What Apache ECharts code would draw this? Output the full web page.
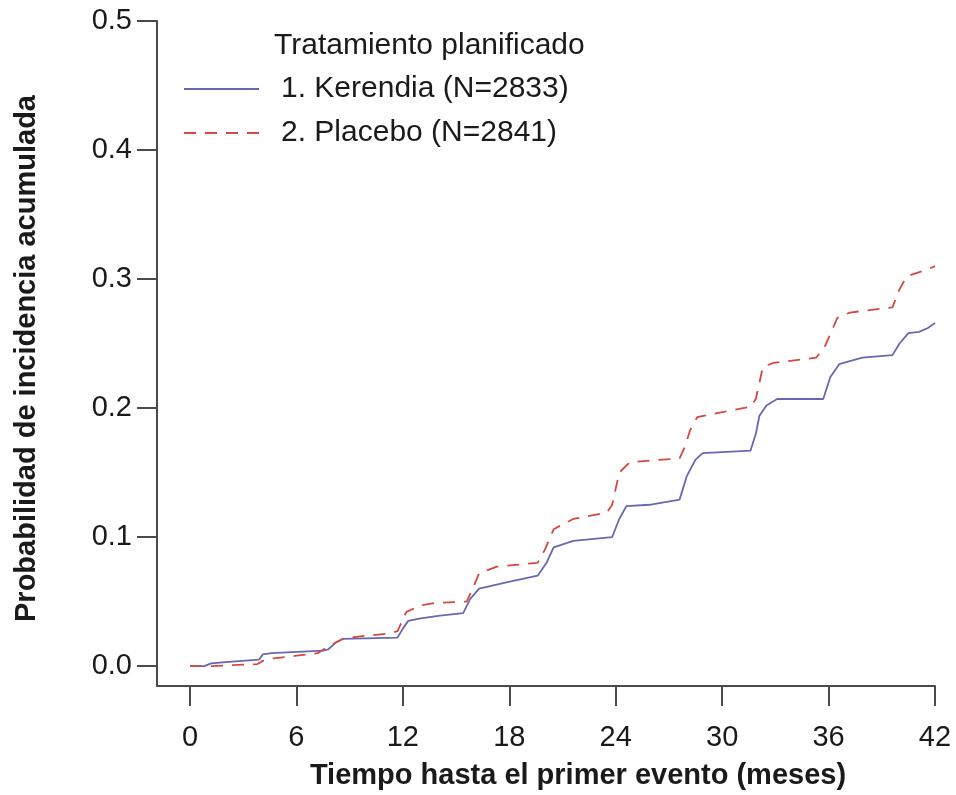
<!DOCTYPE html>
<html>
<head>
<meta charset="utf-8">
<script src="https://cdn.jsdelivr.net/npm/echarts@6/dist/echarts.min.js"></script>
<style>
html,body{margin:0;padding:0;background:#fff;}
#chart{width:956px;height:795px;}
</style>
</head>
<body>
<div id="chart"></div>
<script>
// ---- data ----
var xTicks = [0, 6, 12, 18, 24, 30, 36, 42];
var yTicks = [0, 0.1, 0.2, 0.3, 0.4, 0.5];

var kerendiaName = '1. Kerendia (N=2833)';
var kerendiaMonths = [0, 0.8, 1.2, 2.0, 3.9, 4.1, 4.6, 7.5, 7.8, 8.2, 8.6, 11.7, 12.0, 12.3, 13.0, 14.1, 15.4, 15.8, 16.3, 17.9, 19.6, 20.1, 20.5, 21.6, 23.8, 24.2, 24.6, 25.9, 27.6, 28.0, 28.5, 28.9, 31.6, 31.9, 32.1, 32.5, 33.1, 35.7, 36.1, 36.6, 37.9, 39.6, 40.0, 40.5, 41.1, 41.6, 42.0];
var kerendiaProb   = [0, 0.000, 0.002, 0.003, 0.005, 0.009, 0.010, 0.012, 0.013, 0.018, 0.021, 0.022, 0.029, 0.035, 0.037, 0.039, 0.041, 0.052, 0.060, 0.065, 0.070, 0.080, 0.092, 0.097, 0.100, 0.114, 0.124, 0.125, 0.129, 0.147, 0.160, 0.165, 0.167, 0.180, 0.194, 0.202, 0.207, 0.207, 0.224, 0.234, 0.239, 0.241, 0.250, 0.258, 0.259, 0.262, 0.266];

var placeboName = '2. Placebo (N=2841)';
var placeboMonths = [0, 1.2, 3.8, 4.1, 4.7, 6.0, 7.2, 7.9, 8.6, 9.6, 11.1, 11.7, 12.2, 13.0, 13.9, 15.6, 16.0, 16.3, 17.3, 19.6, 20.0, 20.5, 21.6, 23.5, 23.8, 24.2, 24.8, 27.6, 27.9, 28.2, 28.6, 31.6, 31.9, 32.3, 32.9, 35.3, 35.8, 36.5, 37.2, 39.6, 40.0, 40.4, 41.5, 42.0];
var placeboProb   = [0, 0.000, 0.0015, 0.004, 0.006, 0.008, 0.010, 0.016, 0.021, 0.023, 0.025, 0.027, 0.042, 0.047, 0.049, 0.050, 0.062, 0.072, 0.077, 0.080, 0.090, 0.106, 0.114, 0.119, 0.125, 0.150, 0.158, 0.161, 0.170, 0.183, 0.193, 0.201, 0.207, 0.232, 0.235, 0.239, 0.248, 0.270, 0.274, 0.278, 0.292, 0.302, 0.307, 0.310];

var legendTitle = 'Tratamiento planificado';
var xTitle = 'Tiempo hasta el primer evento (meses)';
var yTitle = 'Probabilidad de incidencia acumulada';

function zip(a, b) { return a.map(function (v, i) { return [v, b[i]]; }); }

var FONT = '"Liberation Sans", Arial, sans-serif';
var TXT = '#1a1a1a';
var AX = '#4a4a4a';

var chart = echarts.init(document.getElementById('chart'), null, {renderer: 'canvas'});
chart.setOption({
  backgroundColor: '#ffffff',
  animation: false,
  textStyle: {fontFamily: FONT},
  title: {
    text: legendTitle,
    left: 274, top: 31,
    padding: 0,
    textStyle: {fontFamily: FONT, fontSize: 30, fontWeight: 'normal', color: TXT}
  },
  legend: {
    orient: 'vertical',
    left: 183, top: 73,
    padding: 0,
    itemWidth: 75, itemHeight: 32, itemGap: 12,
    itemStyle: {opacity: 0, color: 'rgba(0,0,0,0)', borderWidth: 0},
    textStyle: {fontFamily: FONT, fontSize: 30, color: TXT, lineHeight: 32, padding: [0, 0, 0, 17]},
    data: [kerendiaName, placeboName]
  },
  grid: {left: 157, right: 21, top: 21, bottom: 108, containLabel: false},
  xAxis: {
    type: 'value',
    min: -1.8604, max: 42,
    name: xTitle,
    nameLocation: 'middle',
    nameGap: 75,
    nameTextStyle: {fontFamily: FONT, fontSize: 29, fontWeight: 'bold', color: TXT, padding: [0, 0, 0, 64], verticalAlign: 'top'},
    splitLine: {show: false},
    axisLine: {show: true, onZero: false, lineStyle: {color: AX, width: 2}},
    axisTick: {show: true, inside: false, length: 20, customValues: xTicks, lineStyle: {color: AX, width: 2}},
    axisLabel: {show: true, margin: 37, customValues: xTicks, fontFamily: FONT, fontSize: 29, color: TXT}
  },
  yAxis: {
    type: 'value',
    min: -0.01548, max: 0.5,
    name: yTitle,
    nameLocation: 'middle',
    nameGap: 116,
    nameRotate: 90,
    nameTextStyle: {fontFamily: FONT, fontSize: 29, fontWeight: 'bold', color: TXT, padding: [0, 10, 0, 0]},
    splitLine: {show: false},
    axisLine: {show: true, onZero: false, lineStyle: {color: AX, width: 2}},
    axisTick: {show: true, inside: false, length: 20, customValues: yTicks, lineStyle: {color: AX, width: 2}},
    axisLabel: {show: true, margin: 25, customValues: yTicks, fontFamily: FONT, fontSize: 29, color: TXT,
      formatter: function (v) { return Number(v).toFixed(1); }}
  },
  series: [
    {
      name: kerendiaName,
      type: 'line',
      data: zip(kerendiaMonths, kerendiaProb),
      symbol: 'none',
      lineStyle: {color: '#6868b2', width: 1.8},
      itemStyle: {color: '#6868b2'}
    },
    {
      name: placeboName,
      type: 'line',
      data: zip(placeboMonths, placeboProb),
      symbol: 'none',
      lineStyle: {color: '#d6483f', width: 1.8, type: [12, 9]},
      itemStyle: {color: '#d6483f'}
    }
  ]
});
</script>
</body>
</html>
